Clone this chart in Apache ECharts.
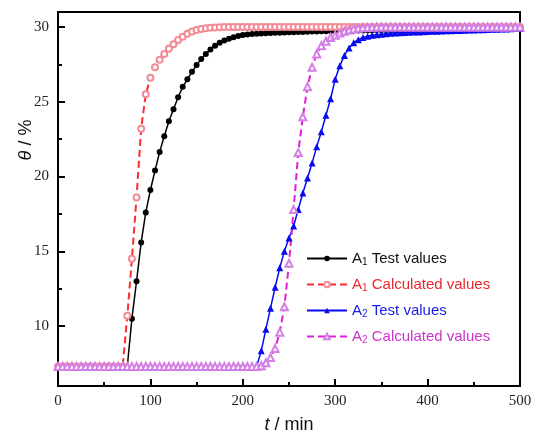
<!DOCTYPE html>
<html>
<head>
<meta charset="utf-8">
<script src="https://cdn.jsdelivr.net/npm/echarts@6/dist/echarts.min.js"></script>
<style>
  html, body { margin: 0; padding: 0; background: #fff; }
  #chart { width: 537px; height: 439px; }
</style>
</head>
<body>
<div id="chart"></div>
<script>
// time grid in minutes (every 5 min)
var times = [0,5,10,15,20,25,30,35,40,45,50,55,60,65,70,75,80,85,90,95,
  100,105,110,115,120,125,130,135,140,145,150,155,160,165,170,175,180,185,190,195,
  200,205,210,215,220,225,230,235,240,245,250,255,260,265,270,275,280,285,290,295,
  300,305,310,315,320,325,330,335,340,345,350,355,360,365,370,375,380,385,390,395,
  400,405,410,415,420,425,430,435,440,445,450,455,460,465,470,475,480,485,490,495,500];

// A1 test values, from t = 75 min
var a1Test = [7.3, 10.5, 13.0, 15.6, 17.6, 19.1, 20.4, 21.65, 22.7, 23.7,
  24.5, 25.3, 26.0, 26.5, 27.0, 27.45, 27.85, 28.2, 28.5, 28.75,
  28.95, 29.1, 29.22, 29.32, 29.4, 29.46, 29.5, 29.53, 29.55, 29.57,
  29.58, 29.6, 29.61, 29.62, 29.63, 29.64, 29.65, 29.66, 29.67, 29.68,
  29.69, 29.7, 29.71, 29.72, 29.73, 29.74, 29.75, 29.75, 29.76, 29.76,
  29.77, 29.77, 29.78, 29.78, 29.79, 29.79, 29.8, 29.8, 29.8, 29.81,
  29.81, 29.82, 29.82, 29.82, 29.83, 29.83, 29.83, 29.84, 29.84, 29.84,
  29.85, 29.85, 29.85, 29.86, 29.86, 29.86, 29.86, 29.87, 29.87, 29.87,
  29.87, 29.88, 29.88, 29.88, 29.88, 29.88];
var a1TestStart = 15;

// A1 calculated values, from t = 0
var a1Calc = [7.3, 7.3, 7.3, 7.3, 7.3, 7.3, 7.3, 7.3, 7.3, 7.3,
  7.3, 7.3, 7.3, 7.3, 7.3, 10.7, 14.5, 18.6, 23.2, 25.5,
  26.6, 27.3, 27.8, 28.2, 28.55, 28.85, 29.12, 29.35, 29.55, 29.7,
  29.8, 29.87, 29.92, 29.95, 29.97, 29.98, 30, 30, 30, 30,
  30, 30, 30, 30, 30, 30, 30, 30, 30, 30,
  30, 30, 30, 30, 30, 30, 30, 30, 30, 30,
  30, 30, 30, 30, 30, 30, 30, 30, 30, 30,
  30, 30, 30, 30, 30, 30, 30, 30, 30, 30,
  30, 30, 30, 30, 30, 30, 30, 30, 30, 30,
  30, 30, 30, 30, 30, 30, 30, 30, 30, 30, 30];

// A2 test values, from t = 215 min
var a2Test = [7.3, 8.35, 9.8, 11.2, 12.6, 13.9, 15.0, 15.9, 16.7, 17.8,
  18.9, 19.9, 20.9, 22.0, 23.0, 24.1, 25.2, 26.5, 27.4, 28.1,
  28.6, 28.95, 29.15, 29.3, 29.38, 29.44, 29.48, 29.52, 29.55, 29.58,
  29.6, 29.62, 29.63, 29.65, 29.66, 29.67, 29.68, 29.7, 29.71, 29.72,
  29.73, 29.74, 29.75, 29.76, 29.77, 29.78, 29.79, 29.8, 29.81, 29.82,
  29.83, 29.84, 29.85, 29.86, 29.87, 29.88, 29.89, 29.9];
var a2TestStart = 43;

// A2 calculated values, from t = 0
var a2Calc = [7.3, 7.3, 7.3, 7.3, 7.3, 7.3, 7.3, 7.3, 7.3, 7.3,
  7.3, 7.3, 7.3, 7.3, 7.3, 7.3, 7.3, 7.3, 7.3, 7.3,
  7.3, 7.3, 7.3, 7.3, 7.3, 7.3, 7.3, 7.3, 7.3, 7.3,
  7.3, 7.3, 7.3, 7.3, 7.3, 7.3, 7.3, 7.3, 7.3, 7.3,
  7.3, 7.3, 7.3, 7.3, 7.35, 7.55, 7.9, 8.5, 9.6, 11.3,
  14.2, 17.8, 21.6, 24.0, 26.0, 27.3, 28.2, 28.75, 29.05, 29.3,
  29.45, 29.6, 29.72, 29.8, 29.87, 29.92, 29.95, 29.97, 29.98, 30,
  30, 30, 30, 30, 30, 30, 30, 30, 30, 30,
  30, 30, 30, 30, 30, 30, 30, 30, 30, 30,
  30, 30, 30, 30, 30, 30, 30, 30, 30, 30, 30];

var names = ['A1 Test values', 'A1 Calculated values', 'A2 Test values', 'A2 Calculated values'];
var yLabels = [10, 15, 20, 25, 30];
var yMinor = [7.5, 12.5, 17.5, 22.5, 27.5];

function pairs(vals, start, firstNoSymbol) {
    var out = [];
    for (var i = 0; i < vals.length; i++) {
        var item = {value: [times[start + i], vals[i]]};
        if (firstNoSymbol && i === 0) item.symbol = 'none';
        out.push(item);
    }
    return out;
}

// legend text: A + subscript digit, coloured per series
var legendKeys = {};
legendKeys[names[0]] = 'k';
legendKeys[names[1]] = 'r';
legendKeys[names[2]] = 'b';
legendKeys[names[3]] = 'm';
var legendColors = {k: '#111', r: '#e8282a', b: '#1c1ce0', m: '#cc33cc'};
var rich = {};
for (var k in legendColors) {
    rich[k] = {color: legendColors[k], fontSize: 15, fontFamily: 'Liberation Sans'};
    rich[k + 'S'] = {color: legendColors[k], fontSize: 10, fontFamily: 'Liberation Sans', padding: [7, 0, 0, 0]};
}

var chart = echarts.init(document.getElementById('chart'));
var option = {
    animation: false,
    backgroundColor: '#fff',
    grid: {left: 58, right: 17, top: 12, bottom: 43, show: true, borderColor: '#000', borderWidth: 2, backgroundColor: 'transparent'},
    legend: {
        orient: 'vertical',
        left: 306,
        top: 251,
        padding: 0,
        itemWidth: 40,
        itemHeight: 7,
        itemGap: 10,
        data: names,
        formatter: function (name) {
            var key = legendKeys[name];
            return '{' + key + '|A}{' + key + 'S|' + name.charAt(1) + '}{' + key + '| ' + name.slice(3) + '}';
        },
        textStyle: {rich: rich}
    },
    xAxis: {
        type: 'value',
        min: 0, max: 500, interval: 100,
        name: '{i|t} / min',
        nameLocation: 'middle',
        nameGap: 30,
        nameTextStyle: {
            fontSize: 18, fontFamily: 'Liberation Sans', color: '#111',
            rich: {i: {fontStyle: 'italic', fontSize: 18, fontFamily: 'Liberation Sans', color: '#111'}}
        },
        axisLine: {lineStyle: {color: '#000', width: 2}},
        axisTick: {inside: true, length: 7, lineStyle: {color: '#000', width: 2}},
        minorTick: {show: true, splitNumber: 2, length: 4, lineStyle: {color: '#000', width: 2}},
        axisLabel: {fontSize: 15, fontFamily: 'Liberation Serif', color: '#222', margin: 8},
        splitLine: {show: false}
    },
    yAxis: [{
        type: 'value',
        min: 6, max: 31,
        axisLine: {show: true, lineStyle: {color: '#000', width: 2}},
        axisTick: {show: true, inside: true, length: 7, customValues: yLabels, lineStyle: {color: '#000', width: 2}},
        axisLabel: {fontSize: 15, fontFamily: 'Liberation Serif', color: '#222', margin: 9, customValues: yLabels},
        splitLine: {show: false}
    }, {
        type: 'value',
        position: 'left',
        min: 6, max: 31,
        axisLine: {show: false},
        axisTick: {show: true, inside: true, length: 4, customValues: yMinor, lineStyle: {color: '#000', width: 2}},
        axisLabel: {show: false},
        splitLine: {show: false}
    }],
    graphic: [{
        type: 'text',
        x: 26, y: 140,
        rotation: Math.PI / 2,
        style: {
            text: '{i|θ} / %',
            rich: {i: {fontStyle: 'italic', fontSize: 18, fontFamily: 'Liberation Sans', fill: '#111'}},
            fontSize: 18, fontFamily: 'Liberation Sans', fill: '#111',
            align: 'center', verticalAlign: 'middle'
        }
    }],
    series: [{
        name: names[0],
        type: 'line',
        data: pairs(a1Test, a1TestStart, true),
        symbol: 'circle',
        symbolSize: 6,
        itemStyle: {color: '#000'},
        lineStyle: {color: '#000', width: 1.5}
    }, {
        name: names[1],
        type: 'line',
        data: pairs(a1Calc, 0, false),
        symbol: 'emptyCircle',
        symbolSize: 6,
        itemStyle: {color: '#f28b95', borderWidth: 1},
        lineStyle: {color: '#ff2b2b', width: 2, type: [7, 4]}
    }, {
        name: names[2],
        type: 'line',
        data: pairs(a2Test, a2TestStart, true),
        symbol: 'triangle',
        symbolSize: 7,
        itemStyle: {color: '#0a0af0'},
        lineStyle: {color: '#0a0af0', width: 1.5}
    }, {
        name: names[3],
        type: 'line',
        data: pairs(a2Calc, 0, false),
        symbol: 'emptyTriangle',
        symbolSize: 7,
        itemStyle: {color: '#d37fe3', borderWidth: 1},
        lineStyle: {color: '#e020d8', width: 2, type: [7, 4]}
    }]
};
chart.setOption(option);
</script>
</body>
</html>
